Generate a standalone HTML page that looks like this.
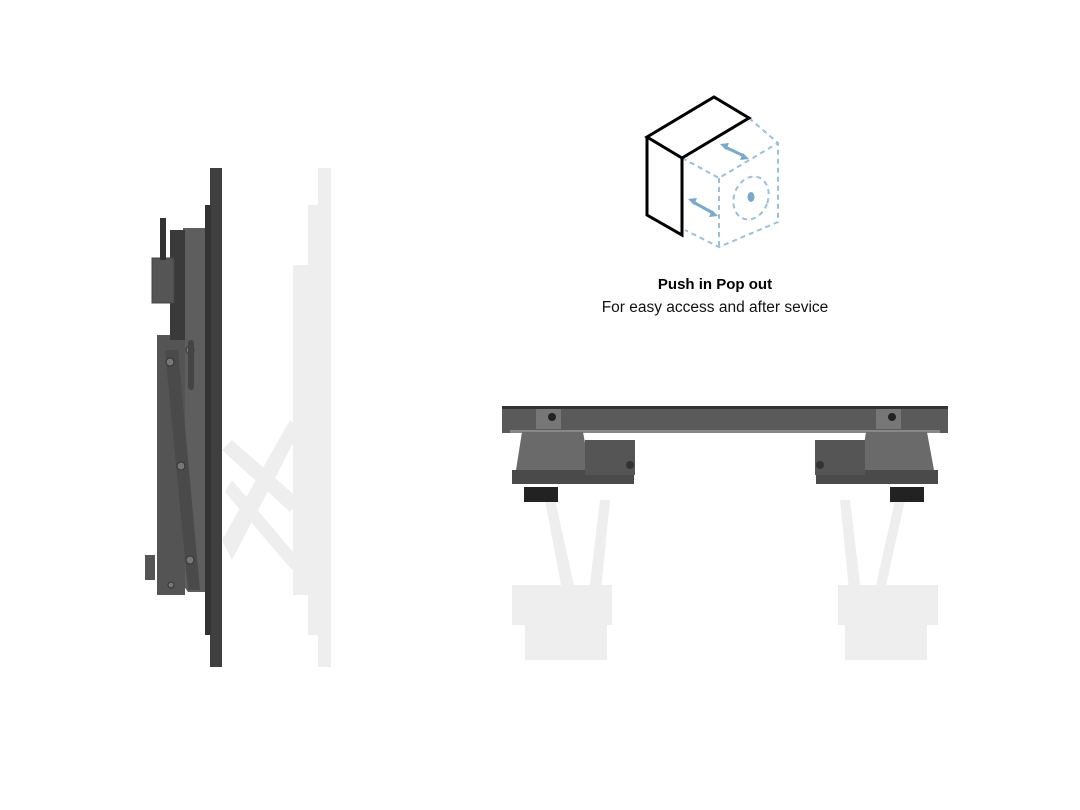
<!DOCTYPE html>
<html><head><style>
html,body{margin:0;padding:0;background:#fff;}
body{width:1080px;height:810px;position:relative;overflow:hidden;font-family:"Liberation Sans",sans-serif;}
.t1{position:absolute;left:0;width:1430px;text-align:center;top:276px;font-weight:bold;font-size:15px;color:#000;}
.t2{position:absolute;left:0;width:1430px;text-align:center;top:299px;font-size:15.5px;color:#111;}
</style></head><body>
<svg width="1080" height="810" style="position:absolute;left:0;top:0">
<g fill="none" stroke="#9cc0d8" stroke-width="2" stroke-dasharray="5,4">
<polyline points="749,118 778,143 778,222 719,247 685,230"/>
<polyline points="682,158 719,178 778,143"/>
<line x1="719" y1="178" x2="719" y2="247"/>
<ellipse cx="751" cy="198" rx="17" ry="22" transform="rotate(20 751 198)"/>
</g>
<ellipse cx="751" cy="197" rx="3.5" ry="5" fill="#7aa9c9"/>
<g stroke="#7aa9c9" stroke-width="3" fill="#7aa9c9">
<line x1="725" y1="147" x2="744" y2="156"/>
<line x1="693" y1="202" x2="713" y2="213"/>
</g>
<g fill="#7aa9c9"><polygon points="720,144 729,143 726,150"/><polygon points="749,159 740,160 743,153"/>
<polygon points="688,199 697,198 694,205"/><polygon points="718,216 709,217 712,210"/></g>
<g fill="none" stroke="#000" stroke-width="3" stroke-linejoin="miter">
<polygon points="647,137 714,97 749,118 682,158"/>
<polyline points="647,137 647,215 682,235 682,158"/>
</g>
<g fill="#eeeeee">
<rect x="318" y="168" width="13" height="499"/>
<rect x="308" y="205" width="12" height="430"/>
<rect x="293" y="265" width="16" height="330"/>
<polygon points="222,450 232,440 300,500 290,512"/>
<polygon points="222,540 290,420 300,430 232,560"/>
<polygon points="232,480 300,560 292,570 225,492"/>
</g>
<rect x="210" y="168" width="12" height="499" fill="#3f3f3f"/>
<rect x="205" y="205" width="6" height="430" fill="#333"/>
<path d="M183 228 L205 228 L205 592 L188 592 L183 585 Z" fill="#5e5e5e"/>
<rect x="157" y="335" width="28" height="260" fill="#545454"/>
<polygon points="165,350 178,350 200,590 188,590" fill="#4a4a4a"/>
<rect x="170" y="230" width="15" height="110" fill="#3a3a3a"/>
<rect x="152" y="258" width="22" height="45" fill="#555" stroke="#444"/>
<rect x="160" y="218" width="6" height="42" fill="#333"/>
<rect x="145" y="555" width="10" height="25" fill="#555"/>
<g fill="#777" stroke="#333"><circle cx="170" cy="362" r="4"/><circle cx="190" cy="350" r="4"/><circle cx="181" cy="466" r="4"/><circle cx="190" cy="560" r="4"/><circle cx="171" cy="585" r="3"/></g>
<rect x="188" y="340" width="6" height="50" rx="3" fill="#444"/>
<g fill="#eeeeee">
<rect x="512" y="585" width="100" height="40"/><rect x="525" y="625" width="82" height="35"/>
<rect x="838" y="585" width="100" height="40"/><rect x="845" y="625" width="82" height="35"/>
<polygon points="545,500 555,500 575,590 562,590"/><polygon points="600,500 610,500 600,600 588,600"/>
<polygon points="895,500 905,500 885,590 875,590"/><polygon points="840,500 850,500 862,600 850,600"/>
</g>
<rect x="502" y="406" width="446" height="27" fill="#5a5a5a"/>
<rect x="502" y="406" width="446" height="3" fill="#333"/>
<rect x="510" y="430" width="430" height="3" fill="#888"/>
<polygon points="522,432 583,432 590,470 516,470" fill="#6a6a6a"/>
<rect x="536" y="409" width="25" height="20" fill="#777"/><circle cx="552" cy="417" r="4" fill="#222"/>
<rect x="512" y="470" width="122" height="14" fill="#4a4a4a"/>
<rect x="524" y="487" width="34" height="15" fill="#222"/>
<rect x="585" y="440" width="50" height="35" fill="#555"/>
<circle cx="630" cy="465" r="4" fill="#333"/>
<polygon points="866,432 927,432 934,470 860,470" fill="#6a6a6a"/>
<rect x="876" y="409" width="25" height="20" fill="#777"/><circle cx="892" cy="417" r="4" fill="#222"/>
<rect x="816" y="470" width="122" height="14" fill="#4a4a4a"/>
<rect x="890" y="487" width="34" height="15" fill="#222"/>
<rect x="815" y="440" width="50" height="35" fill="#555"/>
<circle cx="820" cy="465" r="4" fill="#333"/>
</svg>
<div class="t1">Push in Pop out</div>
<div class="t2">For easy access and after sevice</div>
</body></html>
